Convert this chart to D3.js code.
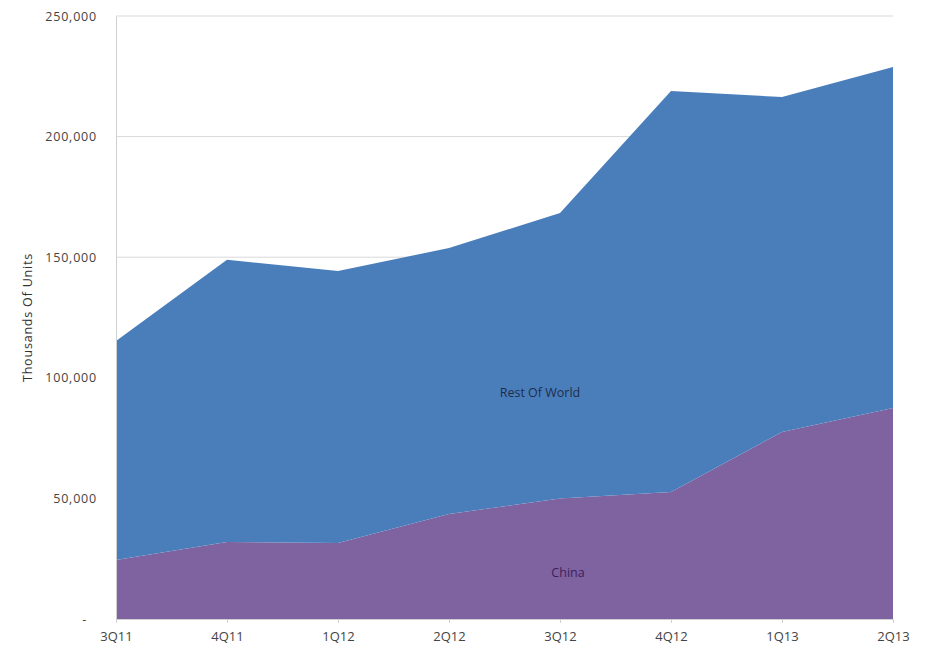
<!DOCTYPE html>
<html><head><meta charset="utf-8">
<script src="https://cdn.jsdelivr.net/npm/d3@7"></script>
<style>body{margin:0;background:#fff}svg{display:block}</style>
</head><body><svg id="c" width="926" height="651"></svg>
<script>
const categories = ["3Q11","4Q11","1Q12","2Q12","3Q12","4Q12","1Q13","2Q13"];
const china = [24500, 31900, 31500, 43500, 50000, 52700, 77500, 87500];
const restOfWorld = [90800, 117000, 112800, 110300, 118300, 166200, 138900, 141400];
const yTicks = [0, 50000, 100000, 150000, 200000, 250000];
const seriesNames = ["China", "Rest Of World"];

const svg = d3.select("#c");
const m = {l:116, r:33, t:16, b:32};
const W = 926, H = 651;
const FONT = "Open Sans, sans-serif";
const x = d3.scalePoint().domain(categories).range([m.l, W - m.r]);
const y = d3.scaleLinear().domain([0, 250000]).range([H - m.b, m.t]);

const rows = categories.map((c, i) => ({cat: c, "China": china[i], "Rest Of World": restOfWorld[i]}));
const stack = d3.stack().keys(seriesNames)(rows);
const colors = {"China": "#7f62a0", "Rest Of World": "#4a7ebb"};

// gridlines
svg.append("g").selectAll("line").data(yTicks.filter(d => d > 0)).join("line")
  .attr("x1", m.l).attr("x2", W - m.r)
  .attr("y1", d => y(d)).attr("y2", d => y(d))
  .attr("stroke", "#d9d9d9").attr("stroke-width", 1);

const area = d3.area().x(d => x(d.data.cat)).y0(d => y(d[0])).y1(d => y(d[1]));
svg.append("g").selectAll("path").data(stack).join("path")
  .attr("d", area).attr("fill", d => colors[d.key]);

// y axis
const yAxis = d3.axisLeft(y).tickValues(yTicks).tickSize(0).tickPadding(19)
  .tickFormat(d => d === 0 ? "-" : d3.format(",")(d));
const gy = svg.append("g").attr("transform", `translate(${m.l},0)`).call(yAxis);
gy.select(".domain").attr("stroke", "#d0d0d0");
gy.selectAll("text").attr("font-family", FONT).attr("font-size", 12.5)
  .attr("letter-spacing", 0.8).attr("fill", "#444");
gy.selectAll(".tick").filter(d => d === 0).select("text").attr("dx", -10);

// x axis
const xAxis = d3.axisBottom(x).tickSize(4).tickPadding(9);
const gx = svg.append("g").attr("transform", `translate(0,${H - m.b})`).call(xAxis);
gx.select(".domain").attr("stroke", "#d0d0d0");
gx.selectAll(".tick line").attr("stroke", "#d0d0d0");
gx.selectAll("text").attr("font-family", FONT).attr("font-size", 13).attr("fill", "#444");

// axis title
svg.append("text").attr("transform", `translate(32,${(m.t + H - m.b)/2}) rotate(-90)`)
  .attr("text-anchor", "middle").attr("font-family", FONT)
  .attr("font-size", 12.5).attr("letter-spacing", 0.8).attr("fill", "#333").text("Thousands Of Units");

// series labels
svg.append("text").attr("x", 540).attr("y", 397).attr("text-anchor", "middle")
  .attr("font-family", FONT).attr("font-size", 12.5).attr("fill", "#1e2d4a").text("Rest Of World");
svg.append("text").attr("x", 568).attr("y", 577).attr("text-anchor", "middle")
  .attr("font-family", FONT).attr("font-size", 12.5).attr("fill", "#3b1f5c").text("China");
</script></body></html>
